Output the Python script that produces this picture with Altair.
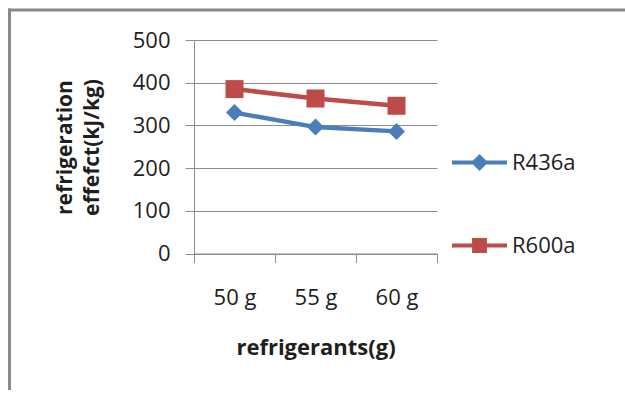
import altair as alt
import pandas as pd

categories = ["50 g", "55 g", "60 g"]
r436a = [330, 296, 286]
r600a = [385, 363, 346]
series_names = ["R436a", "R600a"]
series_values = [r436a, r600a]
colors = ["#4A7EBB", "#BE4B48"]
point_shapes = ["diamond", "square"]
legend_shapes = [
    "M-1,-0.075H1V0.075H-1Z M-0.31,0L0,-0.31L0.31,0L0,0.31Z",
    "M-1,-0.075H1V0.075H-1Z M-0.27,-0.27H0.27V0.27H-0.27Z",
]
y_ticks = [0, 100, 200, 300, 400, 500]

rows = []
for name, vals in zip(series_names, series_values):
    for cat, v in zip(categories, vals):
        rows.append({"refrigerant": cat, "value": v, "series": name})
df = pd.DataFrame(rows)

FONT = "Open Sans"
GRID = "#8c8c8c"
TEXT = "#1e1e1e"

x_enc = alt.X(
    "refrigerant:N",
    sort=categories,
    scale=alt.Scale(type="band", paddingInner=0, paddingOuter=0),
    axis=alt.Axis(
        title="refrigerants(g)",
        labelAngle=0,
        tickBand="extent",
        tickSize=9,
        tickColor=GRID,
        domainColor=GRID,
        labelPadding=25,
        labelFontSize=22,
        labelFont=FONT,
        labelColor=TEXT,
        titleFont=FONT,
        titleFontSize=22,
        titleFontWeight="bold",
        titleColor=TEXT,
        titleBaseline="alphabetic",
        titleY=101,
        grid=False,
    ),
)
y_enc = alt.Y(
    "value:Q",
    scale=alt.Scale(domain=[0, 500], nice=False),
    axis=alt.Axis(
        title=["refrigeration", "effefct(kJ/kg)"],
        values=y_ticks,
        tickSize=9,
        tickColor=GRID,
        domainColor=GRID,
        gridColor=GRID,
        labelPadding=15,
        labelFontSize=22,
        labelFont=FONT,
        labelColor=TEXT,
        titleFont=FONT,
        titleFontSize=21,
        titleFontWeight="bold",
        titleColor=TEXT,
        titleAngle=270,
        titleAlign="center",
        titleBaseline="alphabetic",
        titleLineHeight=27,
        titleX=-123,
        titleY=107,
    ),
)
color_scale = alt.Scale(domain=series_names, range=colors)

base = alt.Chart(df)
one_row = "datum.refrigerant == '50 g' && datum.series == 'R436a'"

frame_left = base.mark_rect(fill="#8a8a8a", stroke=None).encode(
    x=alt.value(-186), x2=alt.value(-183), y=alt.value(-31.5), y2=alt.value(400)
).transform_filter(one_row)
frame_top = base.mark_rect(fill="#8a8a8a", stroke=None).encode(
    x=alt.value(-186), x2=alt.value(431), y=alt.value(-31.5), y2=alt.value(-28.5)
).transform_filter(one_row)

lines = base.mark_line(strokeWidth=4.5).encode(
    x=x_enc, y=y_enc,
    color=alt.Color("series:N", scale=color_scale, legend=None),
    detail="series:N",
)

pts1 = base.mark_point(filled=True, opacity=1, shape=point_shapes[0], size=289).encode(
    x=x_enc, y=y_enc,
    color=alt.Color("series:N", scale=color_scale, legend=None),
).transform_filter(alt.datum.series == series_names[0])

pts2 = base.mark_point(filled=True, opacity=1, shape=point_shapes[1], size=324).encode(
    x=x_enc, y=y_enc,
    color=alt.Color("series:N", scale=color_scale, legend=None),
).transform_filter(alt.datum.series == series_names[1])

legend_layer = base.mark_point(filled=True, opacity=0).encode(
    x=x_enc, y=y_enc,
    color=alt.Color("series:N", scale=color_scale, legend=None),
    shape=alt.Shape("series:N", scale=alt.Scale(domain=series_names, range=legend_shapes), legend=alt.Legend(
        title=None, orient="none", legendX=258, legendY=95,
        symbolSize=3025, symbolOpacity=1, symbolStrokeWidth=0,
        symbolFillColor=alt.ExprRef(expr="scale('color', datum.value)"),
        labelFont=FONT, labelFontSize=22, labelColor=TEXT,
        labelOffset=5, rowPadding=44, padding=0,
    )),
)

chart = alt.layer(frame_left, frame_top, lines, pts1, pts2, legend_layer).resolve_scale(
    shape="independent"
).properties(
    width=243, height=213.5,
    autosize=alt.AutoSizeParams(type="none"),
    padding={"left": 194, "top": 40, "right": 188, "bottom": 136},
    background="white",
).configure_view(stroke=None)

chart.save("out.html", embed_options={"renderer": "svg", "actions": False})
